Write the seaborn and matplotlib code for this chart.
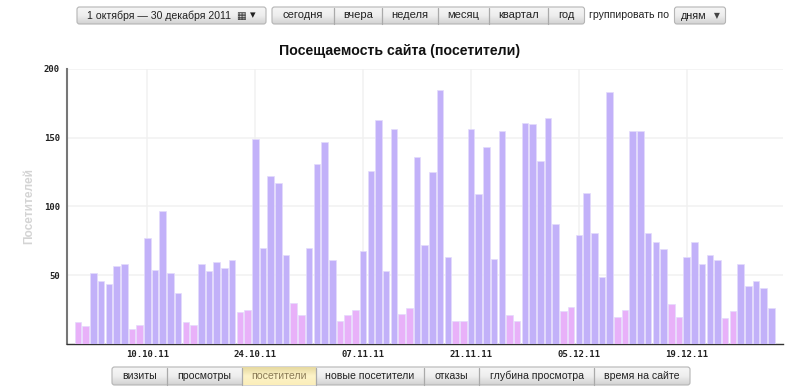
import numpy as np
import pandas as pd
import matplotlib
matplotlib.use("Agg")
import matplotlib.pyplot as plt
from matplotlib.patches import FancyBboxPatch
import seaborn as sns

visitors = [
    16, 13, 52, 46, 44, 57, 58, 11, 14, 77, 54, 97, 52, 37, 16, 14, 58, 53, 60, 55, 61, 23, 25,
    149, 70, 122, 117, 65, 30, 21, 70,
    131, 147, 61, 17, 21, 25, 68, 126, 163, 53, 156, 22, 26, 136, 72, 125, 185, 63, 17, 17,
    156, 109, 143, 62, 155, 21, 17, 161, 160, 133,
    164, 87, 24, 27, 79, 110, 81, 49, 183, 20, 25, 155, 155, 81, 74, 69, 29, 20,
    63, 74, 58, 65, 61, 19, 24, 58, 42, 46, 41, 26,
]
holidays = ["04.11.11"]
tick_labels = ["10.10.11", "24.10.11", "07.11.11", "21.11.11", "05.12.11", "19.12.11"]
y_ticks = [50, 100, 150, 200]

top_labels = ["сегодня", "вчера", "неделя", "месяц", "квартал", "год"]
bottom_labels = ["визиты", "просмотры", "посетители", "новые посетители", "отказы", "глубина просмотра", "время на сайте"]

W, H = 800, 390
purple = "#c2b1f9"
pink = "#e8b1f9"

btn_cmap = matplotlib.colors.LinearSegmentedColormap.from_list("btn", ["#f6f6f6", "#eeeeee", "#d2d2d2"])
act_cmap = matplotlib.colors.LinearSegmentedColormap.from_list("act", ["#e6d9a0", "#fdf3c8", "#fbeeba"])


def add_button(ov, x0, x1, y0, y1):
    # rounded box with vertical gradient
    patch = FancyBboxPatch((x0, y0), x1 - x0, y1 - y0, boxstyle="round,pad=0,rounding_size=2.5",
                           fc="none", ec="#b5b5b5", lw=0.8, zorder=3)
    ov.add_patch(patch)
    grad = np.linspace(0, 1, 32).reshape(-1, 1)
    im = ov.imshow(grad, extent=(x0, x1, y1, y0), cmap=btn_cmap, aspect="auto", zorder=2, vmin=0, vmax=1)
    im.set_clip_path(patch)


def button_group(ov, edges, y0, y1, labels, active=None, size=7.4):
    add_button(ov, edges[0], edges[-1], y0, y1)
    for i, lab in enumerate(labels):
        l, r = edges[i], edges[i + 1]
        if i == active:
            grad = np.linspace(0, 1, 32).reshape(-1, 1)
            ov.imshow(grad, extent=(l, r, y1, y0), cmap=act_cmap, aspect="auto", zorder=3.5, vmin=0, vmax=1)
        if i > 0:
            ov.plot([l, l], [y0 + 0.5, y1 - 0.5], color="#aaaaaa", lw=0.9, zorder=4)
        ov.text((l + r) / 2, (y0 + y1) / 2 - 0.2, lab, ha="center", va="center", fontsize=size,
                color="#8a7a55" if i == active else "#222222", zorder=5)


def main():
    sns.set_theme(style="white")
    plt.rcParams["font.family"] = ["Liberation Sans", "DejaVu Sans"]

    days = pd.date_range("2011-10-01", periods=len(visitors))
    names = days.strftime("%d.%m.%y").tolist()
    off = [d.dayofweek >= 5 or n in holidays for d, n in zip(days, names)]
    df = pd.DataFrame({"day": names, "visitors": visitors, "off": off})

    fig = plt.figure(figsize=(W / 100, H / 100), dpi=100, facecolor="white")
    ax = fig.add_axes([67 / W, (H - 344) / H, (783 - 67) / W, 275 / H])
    sns.barplot(df, x="day", y="visitors", hue="off", order=names, palette={False: purple, True: pink},
                dodge=False, width=0.85, legend=False, saturation=1, edgecolor="#e4dcfc", linewidth=0.5,
                ax=ax, zorder=3)

    ax.set_xlim(-1.43, 91.5)
    ax.set_ylim(0, 200)
    ax.set_xticks([names.index(t) for t in tick_labels], tick_labels)
    ax.set_yticks(y_ticks)
    ax.tick_params(axis="x", length=3, width=0.8, color="#bbbbbb", pad=1.5, labelsize=6.5, labelcolor="#222222")
    ax.tick_params(axis="y", length=0, pad=5, labelsize=6.5, labelcolor="#222222")
    for lab in ax.get_xticklabels() + ax.get_yticklabels():
        lab.set_family("DejaVu Sans Mono")
        lab.set_fontweight("bold")
    ax.grid(True, color="#f1f1f1", lw=1.1, zorder=0)
    ax.set_axisbelow(True)
    ax.set_xlabel("")
    ax.set_ylabel("")
    sns.despine(ax=ax, top=True, right=True)
    ax.spines["left"].set_color("#777777")
    ax.spines["left"].set_linewidth(1.5)
    ax.spines["bottom"].set_color("#333333")
    ax.spines["bottom"].set_linewidth(1.0)

    # overlay in pixel coordinates for title and the page controls
    ov = fig.add_axes([0, 0, 1, 1], facecolor="none")
    ov.set_axis_off()

    ov.text(400, 51, "Посещаемость сайта (посетители)", ha="center", va="center", fontsize=10.2,
            fontweight="bold", color="#111111")
    ov.text(29, 206.5, "Посетителей", rotation=90, ha="center", va="center", fontsize=8.6,
            fontweight="bold", color="#d4d4d4")

    add_button(ov, 77, 266, 7, 24)
    ov.text(87, 15.5, "1 октября — 30 декабря 2011", ha="left", va="center", fontsize=7.6, color="#222222", zorder=5)
    ov.text(241, 15.5, "▦", ha="center", va="center", fontsize=7.5, color="#333333", zorder=5,
            family="DejaVu Sans")
    ov.text(253, 15, "▾", ha="center", va="center", fontsize=8, color="#222222", zorder=5,
            family="DejaVu Sans")

    button_group(ov, [272, 333.5, 382, 438, 489, 548, 584.5], 7, 24, top_labels, size=8)
    ov.text(589, 15, "группировать по", ha="left", va="center", fontsize=7.6, color="#222222")
    add_button(ov, 674.5, 725.5, 7, 24)
    ov.text(681, 16, "дням", ha="left", va="center", fontsize=7.8, color="#222222", zorder=5)
    ov.text(717, 15.5, "▼", ha="center", va="center", fontsize=5.5, color="#444444", zorder=5,
            family="DejaVu Sans")

    button_group(ov, [112, 166.5, 241.5, 315.5, 424, 479, 594, 690], 367, 385, bottom_labels, active=2, size=7.6)

    ov.set_xlim(0, W)
    ov.set_ylim(H, 0)

    fig.savefig("out.png", dpi=100)


if __name__ == "__main__":
    main()
